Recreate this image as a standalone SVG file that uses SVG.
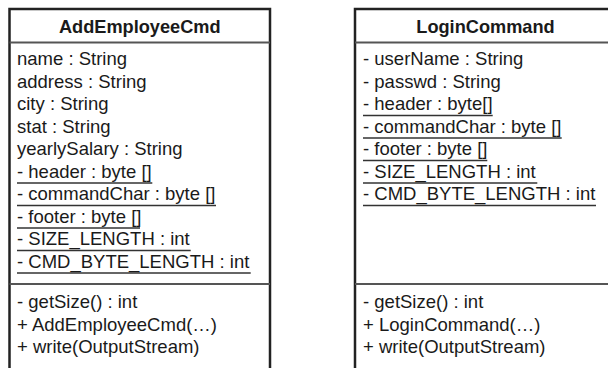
<svg xmlns="http://www.w3.org/2000/svg" width="608" height="368" viewBox="0 0 608 368">
<style>
.box{fill:#fff;stroke:#222;stroke-width:2.5}
.div{stroke:#555;stroke-width:2}
.ul{stroke:#333;stroke-width:1.4}
text{font-family:"Liberation Sans",Arial,sans-serif;font-size:18.5px;fill:#1a1a1a}
.t{font-weight:bold;text-anchor:middle;font-size:18.2px}
</style>
<rect width="608" height="368" fill="#fff"/>
<g id="AddEmployeeCmd">
<rect class="box" x="9.5" y="9" width="260.5" height="400"/>
<line class="div" x1="9.5" y1="42.5" x2="270" y2="42.5"/>
<line class="div" x1="9.5" y1="284" x2="270" y2="284"/>
<text class="t" x="139.75" y="33">AddEmployeeCmd</text>
<text x="17" y="65">name : String</text>
<text x="17" y="87.5">address : String</text>
<text x="17" y="110">city : String</text>
<text x="17" y="132.5">stat : String</text>
<text x="17" y="155">yearlySalary : String</text>
<text x="17" y="177.5">- header : byte []</text>
<text x="17" y="200">- commandChar : byte []</text>
<text x="17" y="222.5">- footer : byte []</text>
<text x="17" y="245">- SIZE_LENGTH : int</text>
<text x="17" y="267.5">- CMD_BYTE_LENGTH : int</text>
<line class="ul" x1="17" y1="183" x2="152.3" y2="183"/>
<line class="ul" x1="17" y1="205.5" x2="216" y2="205.5"/>
<line class="ul" x1="17" y1="228" x2="140" y2="228"/>
<line class="ul" x1="17" y1="250.5" x2="190.7" y2="250.5"/>
<line class="ul" x1="17" y1="273" x2="250.7" y2="273"/>
<text x="17" y="308">- getSize() : int</text>
<text x="17" y="330.5">+ AddEmployeeCmd(…)</text>
<text x="17" y="353">+ write(OutputStream)</text>
</g>
<g id="LoginCommand">
<rect class="box" x="355" y="9" width="270" height="400"/>
<line class="div" x1="355" y1="42.5" x2="625" y2="42.5"/>
<line class="div" x1="355" y1="284" x2="625" y2="284"/>
<text class="t" x="485.5" y="33">LoginCommand</text>
<text x="363" y="65">- userName : String</text>
<text x="363" y="87.5">- passwd : String</text>
<text x="363" y="110">- header : byte[]</text>
<text x="363" y="132.5">- commandChar : byte []</text>
<text x="363" y="155">- footer : byte []</text>
<text x="363" y="177.5">- SIZE_LENGTH : int</text>
<text x="363" y="200">- CMD_BYTE_LENGTH : int</text>
<line class="ul" x1="363" y1="115.5" x2="492.7" y2="115.5"/>
<line class="ul" x1="363" y1="138" x2="561.7" y2="138"/>
<line class="ul" x1="363" y1="160.5" x2="487.3" y2="160.5"/>
<line class="ul" x1="363" y1="183" x2="537.3" y2="183"/>
<line class="ul" x1="363" y1="205.5" x2="596" y2="205.5"/>
<text x="363" y="308">- getSize() : int</text>
<text x="363" y="330.5">+ LoginCommand(…)</text>
<text x="363" y="353">+ write(OutputStream)</text>
</g>
<g id="connectors"/>
</svg>
